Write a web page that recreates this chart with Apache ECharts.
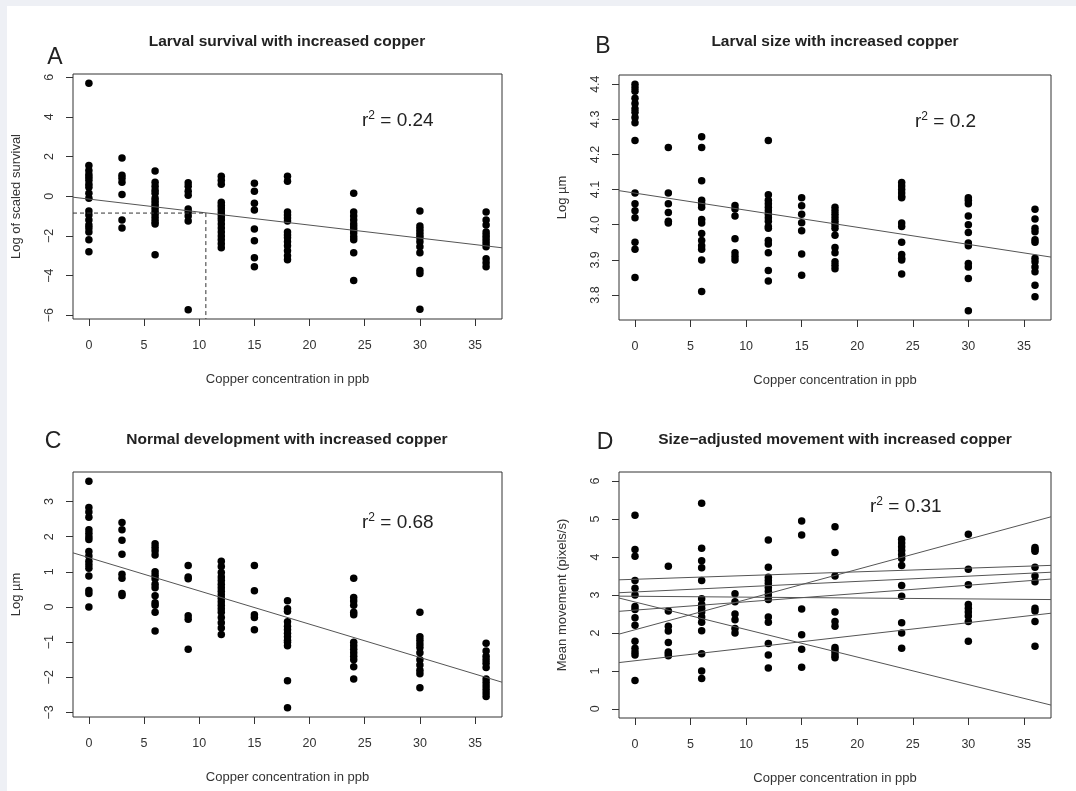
<!DOCTYPE html>
<html>
<head>
<meta charset="utf-8">
<script src="https://cdn.jsdelivr.net/npm/echarts@6/dist/echarts.min.js"></script>
<style>
html, body { margin: 0; padding: 0; background: #eef0f5; }
#chart { position: absolute; left: 7px; top: 6px; width: 1069px; height: 785px; background: #fff; }
</style>
</head>
<body>
<div id="chart"></div>
<script>
// copper doses (ppb), one column of dots per dose
var doses = [0, 3, 6, 9, 12, 15, 18, 24, 30, 36];
var xTicks = [0, 5, 10, 15, 20, 25, 30, 35];

// A - log of scaled survival
var survival = [
  [5.7, 1.55, 1.3, 1.1, 0.95, 0.8, 0.6, 0.45, 0.15, -0.1, -0.75, -0.95, -1.2, -1.45, -1.6, -1.8, -2.2, -2.8],
  [1.93, 1.05, 0.9, 0.7, 0.08, -1.2, -1.6],
  [1.27, 0.7, 0.5, 0.3, 0.15, -0.1, -0.25, -0.4, -0.55, -0.7, -0.85, -1.0, -1.15, -1.3, -1.4, -2.95],
  [0.68, 0.5, 0.25, 0.05, -0.65, -0.8, -1.0, -1.25, -5.73],
  [1.0, 0.8, 0.6, -0.3, -0.45, -0.6, -0.75, -0.9, -1.05, -1.2, -1.4, -1.6, -1.8, -2.0, -2.2, -2.4, -2.6],
  [0.65, 0.25, -0.35, -0.7, -1.65, -2.25, -3.1, -3.55],
  [1.0, 0.75, -0.8, -0.95, -1.1, -1.25, -1.8, -1.95, -2.1, -2.3, -2.5, -2.75, -3.0, -3.2],
  [0.15, -0.8, -1.0, -1.2, -1.4, -1.55, -1.7, -1.85, -2.05, -2.2, -2.85, -4.25],
  [-0.75, -1.5, -1.65, -1.8, -1.95, -2.1, -2.3, -2.55, -2.85, -3.75, -3.9, -5.7],
  [-0.8, -1.2, -1.45, -1.8, -1.95, -2.1, -2.25, -2.4, -2.55, -3.15, -3.35, -3.55]
];
var survivalFit = [-0.05, -2.6];
var survivalRef = [10.6, -0.85]; // dashed guide: dose, value

// B - log larval size
var size = [
  [4.40, 4.39, 4.38, 4.36, 4.345, 4.33, 4.32, 4.305, 4.29, 4.24, 4.09, 4.06, 4.04, 4.02, 3.95, 3.93, 3.85],
  [4.22, 4.09, 4.06, 4.035, 4.01, 4.005],
  [4.25, 4.22, 4.125, 4.07, 4.06, 4.05, 4.015, 4.005, 3.975, 3.955, 3.94, 3.93, 3.90, 3.81],
  [4.055, 4.045, 4.025, 3.96, 3.92, 3.91, 3.90],
  [4.24, 4.085, 4.07, 4.06, 4.05, 4.04, 4.03, 4.02, 4.01, 3.995, 3.99, 3.955, 3.945, 3.92, 3.87, 3.84],
  [4.077, 4.054, 4.03, 4.006, 3.983, 3.917, 3.856],
  [4.05, 4.04, 4.03, 4.02, 4.01, 4.0, 3.99, 3.97, 3.935, 3.92, 3.895, 3.885, 3.875],
  [4.12, 4.11, 4.10, 4.09, 4.08, 4.077, 4.005, 3.995, 3.95, 3.915, 3.905, 3.90, 3.86],
  [4.077, 4.07, 4.06, 4.025, 4.0, 3.978, 3.948, 3.94, 3.89, 3.88, 3.847, 3.755],
  [4.044, 4.016, 3.99, 3.98, 3.957, 3.95, 3.905, 3.895, 3.88, 3.866, 3.828, 3.795]
];
var sizeFit = [4.097, 3.908];

// C - normal development
var development = [
  [3.58, 2.83, 2.7, 2.55, 2.2, 2.1, 2.0, 1.92, 1.58, 1.45, 1.3, 1.2, 1.1, 0.88, 0.47, 0.38, 0.0],
  [2.4, 2.2, 1.9, 1.5, 0.93, 0.82, 0.38, 0.33],
  [1.8, 1.7, 1.6, 1.48, 1.0, 0.9, 0.8, 0.65, 0.55, 0.32, 0.12, 0.05, -0.15, -0.68],
  [1.18, 0.85, 0.8, -0.25, -0.35, -1.2],
  [1.3, 1.15, 0.98, 0.85, 0.75, 0.65, 0.55, 0.45, 0.35, 0.25, 0.15, 0.05, -0.05, -0.15, -0.3, -0.45, -0.6, -0.78],
  [1.18, 0.46, -0.22, -0.3, -0.65],
  [0.18, -0.05, -0.12, -0.42, -0.55, -0.65, -0.75, -0.85, -0.95, -1.0, -1.1, -2.1, -2.87],
  [0.82, 0.27, 0.17, 0.05, -0.15, -0.22, -1.0, -1.1, -1.2, -1.3, -1.4, -1.5, -1.7, -2.05],
  [-0.15, -0.85, -0.95, -1.05, -1.15, -1.3, -1.5, -1.65, -1.8, -1.9, -2.3],
  [-1.03, -1.25, -1.4, -1.5, -1.6, -1.72, -2.05, -2.15, -2.25, -2.35, -2.45, -2.55]
];
var developmentFit = [1.54, -2.14];

// D - size-adjusted movement
var movement = [
  [5.1, 4.2, 4.02, 3.38, 3.18, 3.0, 2.7, 2.62, 2.4, 2.2, 1.78, 1.6, 1.5, 1.42, 0.75],
  [3.76, 2.58, 2.18, 2.05, 1.75, 1.5, 1.45, 1.4],
  [5.42, 4.23, 3.9, 3.72, 3.38, 2.9, 2.75, 2.65, 2.55, 2.42, 2.28, 2.06, 1.45, 1.0, 0.8],
  [3.03, 2.82, 2.5, 2.35, 2.12, 2.0],
  [4.45, 3.73, 3.47, 3.38, 3.3, 3.2, 3.1, 3.0, 2.88, 2.42, 2.28, 1.72, 1.42, 1.08],
  [4.95, 4.58, 2.63, 1.95, 1.57, 1.1],
  [4.8, 4.12, 3.5, 2.55, 2.3, 2.18, 1.62, 1.55, 1.48, 1.4, 1.35],
  [4.47, 4.37, 4.27, 4.17, 4.07, 3.96, 3.78, 3.25, 2.97, 2.27, 2.0, 1.6],
  [4.6, 3.68, 3.27, 2.75, 2.65, 2.55, 2.45, 2.3, 1.78],
  [4.25, 4.2, 4.15, 3.73, 3.5, 3.35, 2.65, 2.58, 2.3, 1.65]
];
// fitted lines in D, value at left and right edge of the plot
var movementFits = [
  [1.97, 5.06],
  [2.92, 0.10],
  [2.97, 2.88],
  [2.57, 3.42],
  [3.06, 3.60],
  [3.40, 3.78],
  [1.22, 2.52]
];

var xMin = -1.44, xMax = 37.44;
var font = 'Liberation Sans, Arial, sans-serif';

function minus(v) {
  return String(v).replace('-', '\u2212');
}

function points(cols) {
  var out = [];
  cols.forEach(function (col, i) {
    col.forEach(function (v) { out.push([doses[i], v]); });
  });
  return out;
}

function fitLine(idx, ends, dashed) {
  return {
    type: 'line', xAxisIndex: idx, yAxisIndex: idx, silent: true,
    symbol: 'none', animation: false,
    lineStyle: { color: dashed ? '#333' : '#555', width: 1, type: dashed ? [4, 3] : 'solid' },
    data: ends
  };
}

var grids = [
  { left: 66, top: 68, width: 429, height: 245 },
  { left: 612, top: 69, width: 432, height: 245 },
  { left: 66, top: 466, width: 429, height: 245 },
  { left: 612, top: 466, width: 432, height: 246 }
];
grids.forEach(function (g) {
  g.show = true; g.borderColor = '#333'; g.borderWidth = 1; g.backgroundColor = '#fff';
});

var xAxes = grids.map(function (g, i) {
  return {
    type: 'value', gridIndex: i, min: xMin, max: xMax,
    name: 'Copper concentration in ppb', nameLocation: 'middle', nameGap: 54,
    nameTextStyle: { fontFamily: font, fontSize: 13, color: '#333' },
    axisLine: { show: false, onZero: false },
    axisTick: { show: true, length: 7, customValues: xTicks, lineStyle: { color: '#333' } },
    axisLabel: { customValues: xTicks, margin: 20, fontFamily: font, fontSize: 12.5, color: '#333' },
    splitLine: { show: false }
  };
});

function yAxis(i, name, min, max, ticks, fmt) {
  return {
    type: 'value', gridIndex: i, min: min, max: max,
    name: name, nameLocation: 'middle', nameGap: 50, nameRotate: 90,
    nameTextStyle: { fontFamily: font, fontSize: 13, color: '#333' },
    axisLine: { show: false, onZero: false },
    axisTick: { show: true, length: 7, customValues: ticks, lineStyle: { color: '#333' } },
    axisLabel: { customValues: ticks, rotate: 90, margin: 17, fontFamily: font, fontSize: 12.5, color: '#333', formatter: fmt },
    splitLine: { show: false }
  };
}

var yAxes = [
  yAxis(0, 'Log of scaled survival', -6.19, 6.16, [-6, -4, -2, 0, 2, 4, 6], minus),
  yAxis(1, 'Log \u00b5m', 3.729, 4.426, [3.8, 3.9, 4.0, 4.1, 4.2, 4.3, 4.4], function (v) { return v.toFixed(1); }),
  yAxis(2, 'Log \u00b5m', -3.13, 3.84, [-3, -2, -1, 0, 1, 2, 3], minus),
  yAxis(3, 'Mean movement (pixels/s)', -0.24, 6.24, [0, 1, 2, 3, 4, 5, 6], minus)
];

var series = [];
[survival, size, development, movement].forEach(function (cols, i) {
  series.push({
    type: 'scatter', xAxisIndex: i, yAxisIndex: i, symbolSize: 7.5, animation: false,
    itemStyle: { color: '#000', opacity: 1 }, data: points(cols)
  });
});
series.push(fitLine(0, [[xMin, survivalFit[0]], [xMax, survivalFit[1]]]));
series.push(fitLine(0, [[xMin, survivalRef[1]], [survivalRef[0], survivalRef[1]]], true));
series.push(fitLine(0, [[survivalRef[0], survivalRef[1]], [survivalRef[0], -6.19]], true));
series.push(fitLine(1, [[xMin, sizeFit[0]], [xMax, sizeFit[1]]]));
series.push(fitLine(2, [[xMin, developmentFit[0]], [xMax, developmentFit[1]]]));
movementFits.forEach(function (f) {
  series.push(fitLine(3, [[xMin, f[0]], [xMax, f[1]]]));
});

function label(x, y, text, size, bold, align) {
  return {
    type: 'text', x: x, y: y, silent: true,
    style: {
      text: text, fontFamily: font, fontSize: size, fontWeight: bold ? 'bold' : 'normal',
      fill: '#222', textAlign: align || 'center', textVerticalAlign: 'middle'
    }
  };
}

// r squared with a raised small 2
function rsq(x, y, val) {
  return {
    type: 'text', x: x, y: y, silent: true,
    style: {
      text: '{r|r}{s|2}{r| = ' + val + '}',
      fill: '#222', textAlign: 'left', textVerticalAlign: 'middle',
      rich: {
        r: { fontFamily: font, fontSize: 19, fill: '#222', lineHeight: 22 },
        s: { fontFamily: font, fontSize: 12, fill: '#222', verticalAlign: 'top', lineHeight: 12 }
      }
    }
  };
}

var graphics = [
  label(280, 36, 'Larval survival with increased copper', 15.5, true),
  label(828, 36, 'Larval size with increased copper', 15.5, true),
  label(280, 434, 'Normal development with increased copper', 15.5, true),
  label(828, 434, 'Size\u2212adjusted movement with increased copper', 15.5, true),
  label(48, 52, 'A', 23),
  label(596, 41, 'B', 23),
  label(46, 436, 'C', 23),
  label(598, 437, 'D', 23),
  rsq(355, 115, '0.24'),
  rsq(908, 116, '0.2'),
  rsq(355, 517, '0.68'),
  rsq(863, 501, '0.31')
];

var myChart = echarts.init(document.getElementById('chart'));
myChart.setOption({
  backgroundColor: '#fff',
  animation: false,
  grid: grids,
  xAxis: xAxes,
  yAxis: yAxes,
  series: series,
  graphic: graphics
});
</script>
</body>
</html>
